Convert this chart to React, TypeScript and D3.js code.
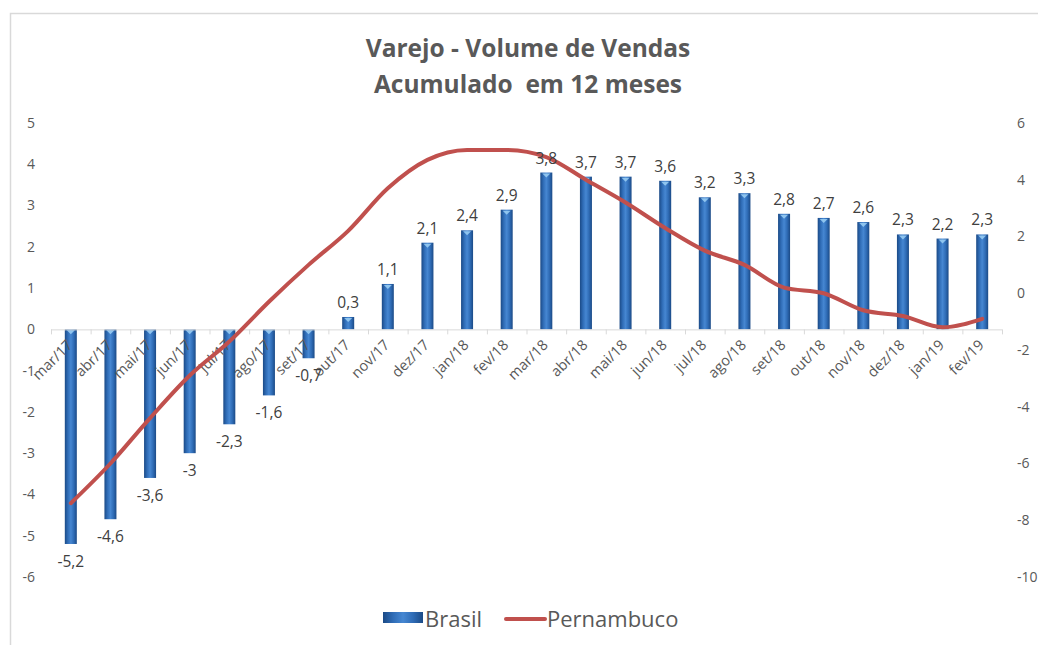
import { useRef, useEffect } from 'react'
import * as d3 from 'd3';

const categories = ['mar/17', 'abr/17', 'mai/17', 'jun/17', 'jul/17', 'ago/17', 'set/17', 'out/17', 'nov/17', 'dez/17', 'jan/18', 'fev/18',
    'mar/18', 'abr/18', 'mai/18', 'jun/18', 'jul/18', 'ago/18', 'set/18', 'out/18', 'nov/18', 'dez/18', 'jan/19', 'fev/19'];

const brasil = [-5.2, -4.6, -3.6, -3, -2.3, -1.6, -0.7, 0.3, 1.1, 2.1, 2.4, 2.9, 3.8, 3.7, 3.7, 3.6, 3.2, 3.3, 2.8, 2.7, 2.6, 2.3, 2.2, 2.3];

const pernambuco = [-7.4, -6.0, -4.4, -2.9, -1.7, -0.3, 1.0, 2.2, 3.7, 4.7, 5.05, 5.05, 4.8, 4.0, 3.2, 2.3, 1.5, 1.0, 0.2, 0.0, -0.6, -0.8, -1.2, -0.9];

const leftTicks = [5, 4, 3, 2, 1, 0, -1, -2, -3, -4, -5, -6];
const rightTicks = [6, 4, 2, 0, -2, -4, -6, -8, -10];

const titleLines = ['Varejo - Volume de Vendas', 'Acumulado  em 12 meses'];

function App() {

    const d3Container = useRef(null);

    const width = 1038;
    const height = 645;

    useEffect(() => {
        const marginTop = 123;
        const marginBottom = 68;
        const plotLeft = 51;
        const plotRight = 1002;
        const font = '"Open Sans", Lato, sans-serif';
        const grey = '#595959';

        const svg = d3.select(d3Container.current);
        svg.selectAll('*').remove();

        // background + frame
        svg.append('rect').attr('width', width).attr('height', height).attr('fill', '#fff');
        svg.append('path')
           .attr('d', `M10.5,${height} V13.5 H${width}`)
           .attr('fill', 'none')
           .attr('stroke', '#d9d9d9')
           .attr('stroke-width', 1.5);

        const defs = svg.append('defs');
        const grad = defs.append('linearGradient').attr('id', 'barGrad')
                         .attr('x1', '0').attr('x2', '1').attr('y1', '0').attr('y2', '0');
        [['0%', '#1b4a86'], ['25%', '#2f6cb6'], ['50%', '#4687d2'], ['75%', '#2f6cb6'], ['100%', '#1b4a86']]
            .forEach(([o, c]) => grad.append('stop').attr('offset', o).attr('stop-color', c));

        const x = d3.scaleBand()
                    .domain(categories)
                    .range([plotLeft, plotRight]);

        const y = d3.scaleLinear()
                    .domain([-6, 5])
                    .range([height - marginBottom, marginTop]);

        const y2 = d3.scaleLinear()
                     .domain([-10, 6])
                     .range([height - marginBottom, marginTop]);

        // title
        svg.append('g')
           .selectAll('text')
           .data(titleLines)
           .join('text')
           .attr('x', 528)
           .attr('y', (d, i) => 57 + i * 36)
           .attr('text-anchor', 'middle')
           .attr('font-family', font)
           .attr('font-weight', 'bold')
           .attr('font-size', 24.5)
           .attr('fill', grey)
           .style('white-space', 'pre')
           .text(d => d);

        // left axis labels
        svg.append('g')
           .selectAll('text')
           .data(leftTicks)
           .join('text')
           .attr('x', 35)
           .attr('y', d => y(d))
           .attr('dy', '0.35em')
           .attr('text-anchor', 'end')
           .attr('font-family', font)
           .attr('font-size', 14)
           .attr('fill', grey)
           .text(d => d);

        // right axis labels
        svg.append('g')
           .selectAll('text')
           .data(rightTicks)
           .join('text')
           .attr('x', 1017)
           .attr('y', d => y2(d))
           .attr('dy', '0.35em')
           .attr('text-anchor', 'start')
           .attr('font-family', font)
           .attr('font-size', 14)
           .attr('fill', grey)
           .text(d => d);

        const bw = 12;

        // bars
        const bars = svg.append('g');
        bars.selectAll('rect')
            .data(brasil)
            .join('rect')
            .attr('x', (d, i) => x(categories[i]) + x.bandwidth() / 2 - bw / 2)
            .attr('width', bw)
            .attr('y', d => Math.min(y(d), y(0)))
            .attr('height', d => Math.abs(y(d) - y(0)))
            .attr('fill', 'url(#barGrad)');

        // little bevel at the bar end
        bars.selectAll('path')
            .data(brasil)
            .join('path')
            .attr('d', (d, i) => {
                const cx = x(categories[i]) + x.bandwidth() / 2;
                const yy = d >= 0 ? y(d) : y(0);
                return `M${cx - 4},${yy + 1} L${cx + 4},${yy + 1} L${cx},${yy + 5} Z`;
            })
            .attr('fill', '#9cd0f5')
            .attr('opacity', 0.85);

        // zero axis
        const zeroY = y(0);
        svg.append('line')
           .attr('x1', plotLeft).attr('x2', plotRight)
           .attr('y1', zeroY + 0.5).attr('y2', zeroY + 0.5)
           .attr('stroke', '#d9d9d9').attr('stroke-width', 1);

        svg.append('g')
           .selectAll('line')
           .data(categories.concat(['end']))
           .join('line')
           .attr('x1', (d, i) => plotLeft + i * x.bandwidth() + 0.5)
           .attr('x2', (d, i) => plotLeft + i * x.bandwidth() + 0.5)
           .attr('y1', zeroY)
           .attr('y2', zeroY + 5)
           .attr('stroke', '#d9d9d9');

        // category labels
        svg.append('g')
           .selectAll('text')
           .data(categories)
           .join('text')
           .attr('transform', d => `translate(${x(d) + x.bandwidth() / 2 - 1},${zeroY + 13}) rotate(-45)`)
           .attr('dy', '0.35em')
           .attr('text-anchor', 'end')
           .attr('font-family', font)
           .attr('font-size', 14.5)
           .attr('fill', grey)
           .text(d => d);

        // Pernambuco line
        const line = d3.line<number>()
                       .x((d, i) => x(categories[i]) + x.bandwidth() / 2)
                       .y(d => y2(d))
                       .curve(d3.curveMonotoneX);

        svg.append('path')
           .datum(pernambuco)
           .attr('d', line)
           .attr('fill', 'none')
           .attr('stroke', '#c0504d')
           .attr('stroke-width', 4)
           .attr('stroke-linejoin', 'round')
           .attr('stroke-linecap', 'round');

        // data labels
        svg.append('g')
           .selectAll('text')
           .data(brasil)
           .join('text')
           .attr('x', (d, i) => x(categories[i]) + x.bandwidth() / 2)
           .attr('y', d => d >= 0 ? y(d) - 9 : y(d) + 23)
           .attr('text-anchor', 'middle')
           .attr('font-family', font)
           .attr('font-size', 15.5)
           .attr('fill', '#404040')
           .text(d => String(d).replace('.', ','));

        // legend
        const legend = svg.append('g');
        legend.append('rect')
              .attr('x', 383).attr('y', 612).attr('width', 40).attr('height', 11)
              .attr('fill', 'url(#barGrad)');
        legend.append('text')
              .attr('x', 425).attr('y', 627)
              .attr('font-family', font).attr('font-size', 22).attr('fill', grey)
              .text('Brasil');
        legend.append('line')
              .attr('x1', 506).attr('x2', 545).attr('y1', 619).attr('y2', 619)
              .attr('stroke', '#c0504d').attr('stroke-width', 4).attr('stroke-linecap', 'round');
        legend.append('text')
              .attr('x', 547).attr('y', 627)
              .attr('font-family', font).attr('font-size', 22).attr('fill', grey)
              .text('Pernambuco');
    }, []);

    return (
        <svg ref={d3Container}
             width={width}
             height={height}
             style={{ position: 'absolute', left: 0, top: 0, display: 'block' }} />
    )
}

export default App;
